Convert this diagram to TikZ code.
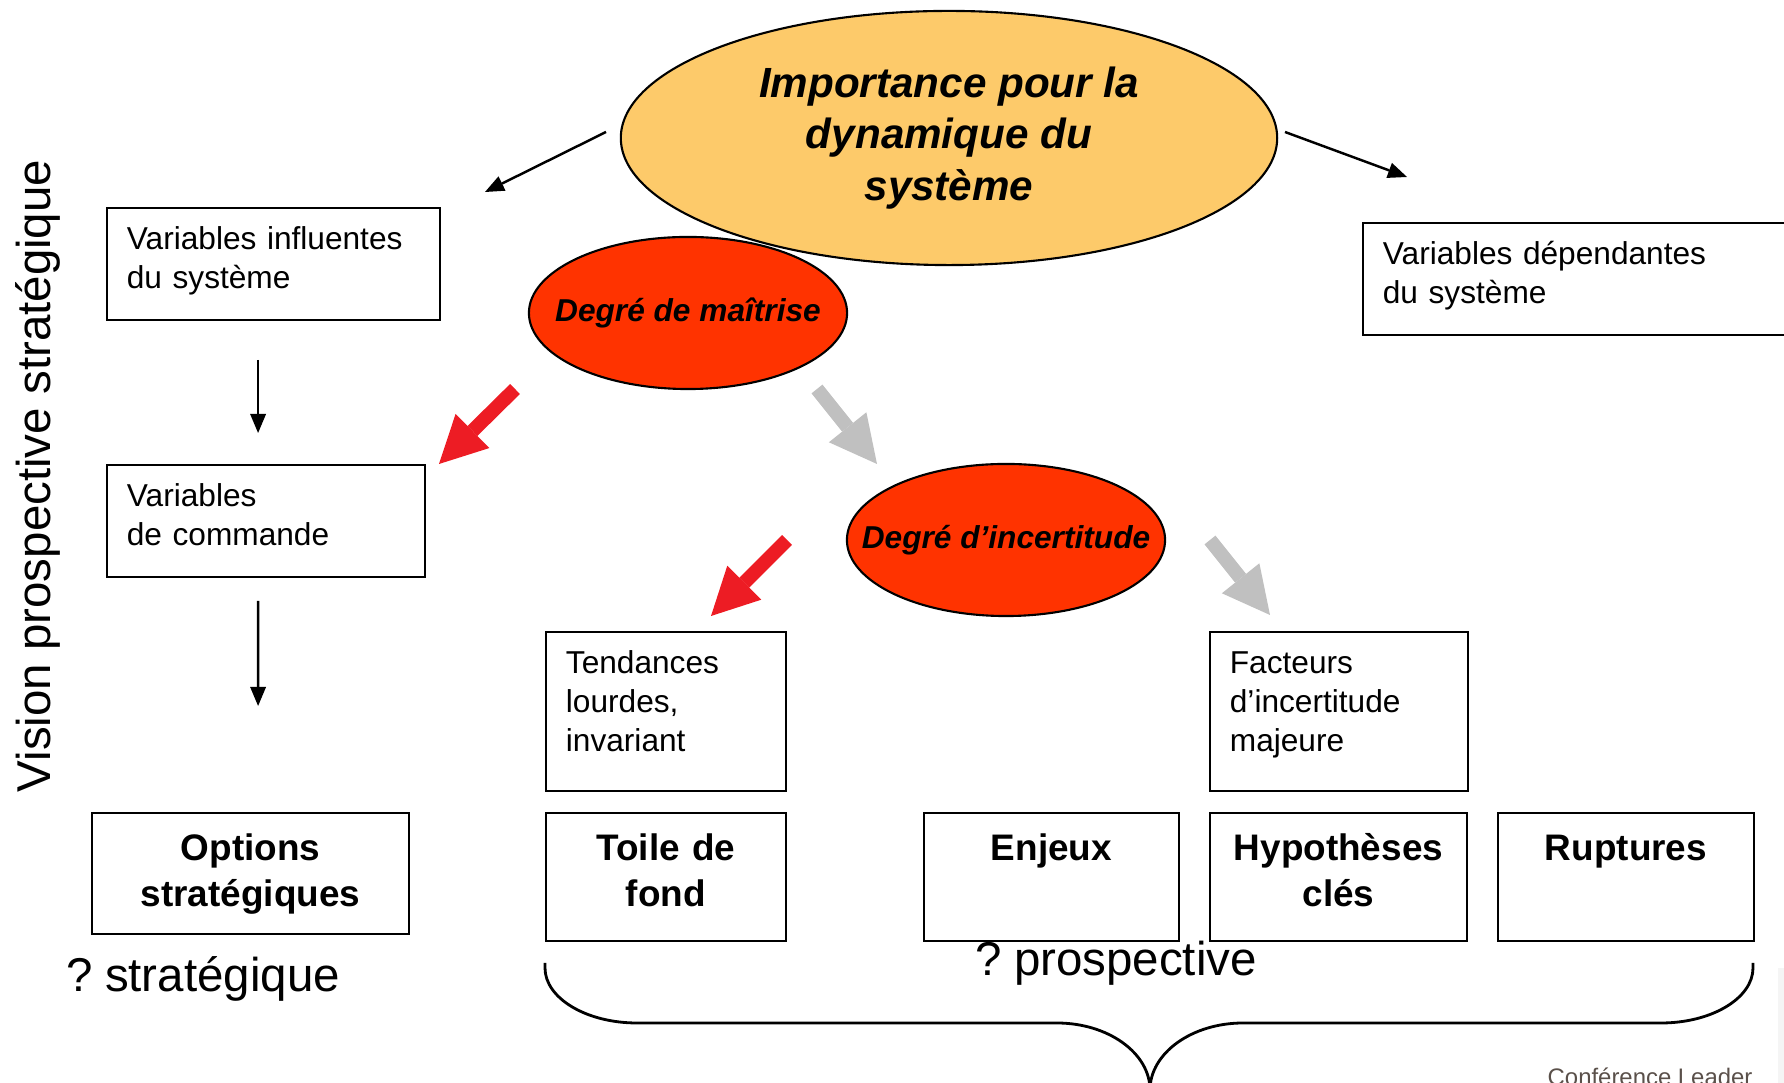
\documentclass[tikz,border=0pt]{standalone}
\usepackage{fontspec}
\setmainfont{Liberation Sans}
\usetikzlibrary{shapes.geometric,arrows.meta}
\definecolor{impfill}{RGB}{253,202,106}
\definecolor{degfill}{RGB}{255,51,0}
\definecolor{redarrow}{RGB}{237,28,36}
\definecolor{greyarrow}{RGB}{192,192,192}
\definecolor{footgrey}{RGB}{90,80,74}
\begin{document}
\begin{tikzpicture}[x=0.01cm, y=-0.01cm,
    varbox/.style={draw, line width=0.5pt, anchor=north west, align=left, inner xsep=0.2cm, inner ysep=0pt, text height=0.42cm, font=\fontsize{9}{11}\selectfont},
    keybox/.style={draw, line width=0.5pt, anchor=north west, align=center, inner xsep=0.1cm, inner ysep=0pt, text height=0.48cm, font=\fontsize{10.5}{12.9}\selectfont\bfseries},
    degree/.style={ellipse, draw, line width=0.6pt, fill=degfill, inner sep=0pt, minimum width=3.18cm, minimum height=1.52cm, font=\fontsize{9}{11}\selectfont\bfseries\itshape},
    thinarrow/.style={line width=0.7pt, -{Triangle[length=0.19cm, width=0.16cm, line width=0pt]}},
    bigarrow/.style={line width=0.14cm, -{Triangle[length=0.47cm, width=0.48cm, line width=0pt]}}]
  \useasboundingbox (0,0) rectangle (1784,1083);
  \clip (0,0) rectangle (1784,1083);

  \node[ellipse, draw, line width=0.6pt, fill=impfill, minimum width=6.56cm, minimum height=2.54cm, align=center, font=\fontsize{12}{14.6}\selectfont\bfseries\itshape] (imp) at (949,138) {Importance pour la\\dynamique du\\système};
  \node[degree] (mait) at (688,313) {\makebox[0pt]{\raisebox{-2pt}{Degré de maîtrise}}};
  \node[degree] (inc) at (1006,540) {\makebox[0pt]{\raisebox{-2pt}{Degré d’incertitude}}};

  \node[varbox, text width=2.93cm, text depth=0.70cm] (infl) at (106,207) {Variables influentes\\du système};
  \node[varbox, text width=4.2cm, text depth=0.70cm] (dep) at (1362,222) {Variables dépendantes\\du système};
  \node[varbox, text width=2.78cm, text depth=0.70cm] (cmd) at (106,464) {Variables\\de commande};
  \node[varbox, text width=2.0cm, text depth=1.17cm] (tend) at (545,631) {Tendances\\lourdes,\\invariant};
  \node[varbox, text width=2.18cm, text depth=1.17cm] (fact) at (1209,631) {Facteurs\\d’incertitude\\majeure};

  \node[keybox, text width=2.97cm, text depth=0.73cm] (opt) at (91,812) {Options\\stratégiques};
  \node[keybox, text width=2.2cm, text depth=0.80cm] (toile) at (545,812) {Toile de\\fond};
  \node[keybox, text width=2.35cm, text depth=0.80cm] (enj) at (923,812) {Enjeux};
  \node[keybox, text width=2.37cm, text depth=0.80cm] (hyp) at (1209,812) {Hypothèses\\clés};
  \node[keybox, text width=2.36cm, text depth=0.80cm] (rup) at (1497,812) {Ruptures};

  \node[rotate=90, anchor=base, inner sep=0pt, font=\fontsize{13.5}{16}\selectfont] (vision) at (51,476) {Vision prospective stratégique};
  \node[anchor=base west, inner sep=0pt, font=\fontsize{13.5}{16}\selectfont] (qstrat) at (66,992) {?\hspace{3.4pt}stratégique};
  \node[anchor=base west, inner sep=0pt, font=\fontsize{13.5}{16}\selectfont] (qprosp) at (975,976) {?\hspace{3.4pt}prospective};
  \node[anchor=base west, inner sep=0pt, text=footgrey, font=\fontsize{6.8}{8}\selectfont] (foot) at (1547,1086) {Conférence Leader};

  \coordinate (iw) at (606,132);
  \coordinate (iwend) at (485,192);
  \coordinate (ie) at (1285,132);
  \coordinate (ieend) at (1407,177);
  \draw[thinarrow] (iw) -- (iwend);
  \draw[thinarrow] (ie) -- (ieend);
  \draw[thinarrow] ([xshift=1.52cm, yshift=-0.39cm]infl.south west) -- ([xshift=1.52cm, yshift=0.31cm]cmd.north west);
  \draw[thinarrow] ([xshift=1.52cm, yshift=-0.23cm]cmd.south west) -- ([xshift=1.67cm, yshift=1.06cm]opt.north west);

  \coordinate (r1) at (515,389);
  \coordinate (r1end) at (439,464);
  \coordinate (g1) at (817,389);
  \coordinate (g1end) at (877,464);
  \coordinate (r2) at (787,540);
  \coordinate (r2end) at (711,616);
  \coordinate (g2) at (1210,540);
  \coordinate (g2end) at (1270,615);
  \draw[bigarrow, redarrow] (r1) -- (r1end);
  \draw[bigarrow, greyarrow] (g1) -- (g1end);
  \draw[bigarrow, redarrow] (r2) -- (r2end);
  \draw[bigarrow, greyarrow] (g2) -- (g2end);

  \draw[line width=0.8pt] (545,963) -- (545,968) .. controls (545,998) and (586,1023) .. (637,1023) -- (1057,1023)
    .. controls (1108,1023) and (1150,1053) .. (1150,1090)
    .. controls (1150,1053) and (1192,1023) .. (1243,1023) -- (1661,1023)
    .. controls (1712,1023) and (1753,998) .. (1753,968) -- (1753,963);

  \fill[black!4] (1778,968) rectangle (1790,1090);
\end{tikzpicture}
\end{document}
